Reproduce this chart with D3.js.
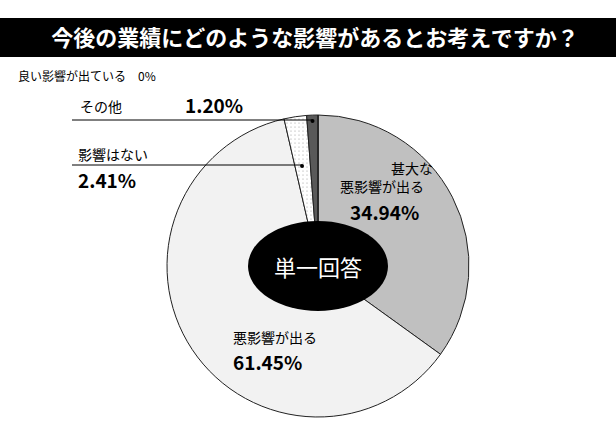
<!DOCTYPE html><html><head><meta charset="utf-8"><script src="https://cdn.jsdelivr.net/npm/d3@7"></script>
<style>body{margin:0;background:#fff}text{font-family:"Noto Sans CJK JP",sans-serif}</style></head><body><svg id="c" width="616" height="444"></svg>
<script>
const categories=["甚大な悪影響が出る","悪影響が出る","影響はない","その他","良い影響が出ている"];
const values=[34.94,61.45,2.41,1.20,0];
const colors=["#c0c0c0","#f2f2f2","url(#dots)","#595959","#fff"];
const svg=d3.select("#c");
const defs=svg.append("defs");
const p=defs.append("pattern").attr("id","dots").attr("width",4).attr("height",4).attr("patternUnits","userSpaceOnUse");
p.append("rect").attr("width",4).attr("height",4).attr("fill","#fff");
p.append("circle").attr("cx",1).attr("cy",1).attr("r",0.5).attr("fill","#888");
svg.append("rect").attr("x",0).attr("y",18).attr("width",616).attr("height",39).attr("fill","#000");
svg.append("text").attr("x",315).attr("y",46).attr("text-anchor","middle").attr("fill","#fff").attr("font-size",22).attr("font-weight","bold").text("今後の業績にどのような影響があるとお考えですか？");
const cx=318,cy=266,r=151;
const pie=d3.pie().sort(null)(values);
const arc=d3.arc().innerRadius(0).outerRadius(r);
const g=svg.append("g").attr("transform",`translate(${cx},${cy})`);
g.selectAll("path").data(pie).join("path").attr("d",arc).attr("fill",(d,i)=>colors[i]).attr("stroke","#222").attr("stroke-width",1);
g.append("ellipse").attr("rx",70).attr("ry",45).attr("fill","#000");
g.append("text").attr("y",10).attr("text-anchor","middle").attr("fill","#fff").attr("font-size",22).text("単一回答");
// labels
const t=(x,y,s,fs,b)=>svg.append("text").attr("x",x).attr("y",y).attr("font-size",fs).attr("font-weight",b?"bold":"normal").attr("fill","#000").text(s);
t(18,81,categories[4]+"　"+values[4]+"%",12);
t(80,112,categories[3],14);t(185,113,values[3].toFixed(2)+"%",19,true);
t(78,160,categories[2],14);t(78,188,values[2].toFixed(2)+"%",19,true);
svg.append("text").attr("x",412).attr("y",174).attr("text-anchor","middle").attr("font-size",14).text("甚大な");
svg.append("text").attr("x",382).attr("y",192).attr("text-anchor","middle").attr("font-size",14).text("悪影響が出る");
t(350,220,values[0].toFixed(2)+"%",19,true);
t(233,343,categories[1],14);t(233,370,values[1].toFixed(2)+"%",19,true);
// leaders
const ang=a=>[cx+Math.sin(a)*(r-5),cy-Math.cos(a)*(r-5)];
const m3=ang((pie[3].startAngle+pie[3].endAngle)/2), m2=ang((pie[2].startAngle+pie[2].endAngle)/2+0.0);
svg.append("line").attr("x1",72).attr("y1",120).attr("x2",m3[0]).attr("y2",120).attr("stroke","#000");
svg.append("circle").attr("cx",m3[0]).attr("cy",121).attr("r",2).attr("fill","#000");
const p2=[cx+Math.sin((pie[2].startAngle+pie[2].endAngle)/2)*(r-45),cy-Math.cos((pie[2].startAngle+pie[2].endAngle)/2)*(r-45)];
svg.append("line").attr("x1",72).attr("y1",165).attr("x2",p2[0]).attr("y2",165).attr("stroke","#000");
svg.append("circle").attr("cx",p2[0]).attr("cy",166).attr("r",2).attr("fill","#000");
</script></body></html>
